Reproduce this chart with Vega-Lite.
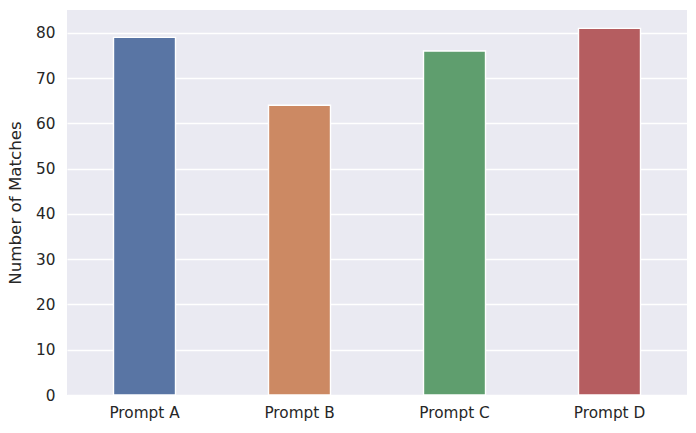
{
  "$schema": "https://vega.github.io/schema/vega-lite/v6.json",
  "autosize": "none",
  "width": 620,
  "height": 385,
  "padding": {"left": 67, "top": 10, "right": 9, "bottom": 38},
  "background": "white",
  "config": {
    "view": {"fill": "#EAEAF2", "stroke": null},
    "font": "DejaVu Sans",
    "axis": {
      "domain": false,
      "ticks": false,
      "gridColor": "white",
      "gridWidth": 1.4,
      "gridOpacity": 1,
      "labelFont": "DejaVu Sans",
      "labelFontSize": 15.3,
      "labelColor": "#262626",
      "titleFont": "DejaVu Sans",
      "titleFontSize": 16.7,
      "titleFontWeight": "normal",
      "titleColor": "#262626"
    }
  },
  "data": {
    "values": [
      {"prompt": "Prompt A", "matches": 79},
      {"prompt": "Prompt B", "matches": 64},
      {"prompt": "Prompt C", "matches": 76},
      {"prompt": "Prompt D", "matches": 81}
    ]
  },
  "mark": {"type": "bar", "stroke": "white", "strokeWidth": 1.4},
  "encoding": {
    "x": {
      "field": "prompt",
      "type": "nominal",
      "title": null,
      "scale": {"paddingInner": 0.6, "paddingOuter": 0.3},
      "axis": {"labelAngle": 0, "grid": false, "labelPadding": 10}
    },
    "y": {
      "field": "matches",
      "type": "quantitative",
      "title": "Number of Matches",
      "scale": {"domain": [0, 85.05], "nice": false},
      "axis": {"values": [0, 10, 20, 30, 40, 50, 60, 70, 80], "labelPadding": 12, "titlePadding": 11}
    },
    "color": {
      "field": "prompt",
      "type": "nominal",
      "legend": null,
      "scale": {"range": ["#5975a4", "#cc8963", "#5f9e6e", "#b55d60"]}
    }
  }
}
